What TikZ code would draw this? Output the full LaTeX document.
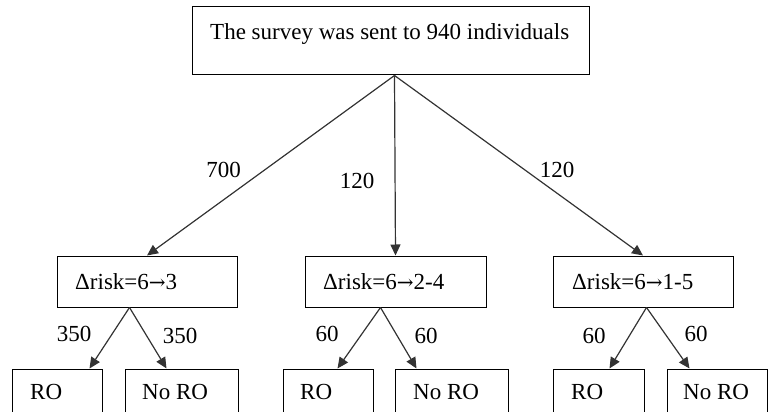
\documentclass[tikz,border=0pt]{standalone}
\usepackage{fontspec}
\setmainfont{Liberation Serif}
\newfontfamily\serf{Liberation Serif}
\newfontfamily\arrfont{DejaVu Serif}
\usetikzlibrary{arrows.meta,calc}
\newcommand{\rarr}{{\arrfont\fontsize{20}{24}\selectfont →}}
\begin{document}
\begin{tikzpicture}[x=1pt,y=-1pt,
  box/.style={draw,line width=1pt,inner sep=0pt},
  txt/.style={anchor=base west,inner sep=0pt,font=\serf\fontsize{23}{27}\selectfont},
  lbl/.style={anchor=center,inner sep=0pt,font=\serf\fontsize{23}{27}\selectfont},
  arr/.style={draw=black!80,line width=1.2pt,-{Triangle[length=11pt,width=10pt]}}]
\useasboundingbox (0,0) rectangle (769,412);
\clip (0,0) rectangle (769,412);
% boxes
\node[box,minimum width=397pt,minimum height=68pt] (top) at (390.5,41) {};
\node[box,minimum width=180pt,minimum height=51pt] (m1) at (147,281.5) {};
\node[box,minimum width=181pt,minimum height=51pt] (m2) at (395.5,281.5) {};
\node[box,minimum width=180pt,minimum height=51pt] (m3) at (643,281.5) {};
\node[box,minimum width=90pt,minimum height=61pt] (r1) at (57,399.5) {};
\node[box,minimum width=113pt,minimum height=61pt] (n1) at (181.5,399.5) {};
\node[box,minimum width=90pt,minimum height=61pt] (r2) at (328,399.5) {};
\node[box,minimum width=113pt,minimum height=61pt] (n2) at (451.5,399.5) {};
\node[box,minimum width=91pt,minimum height=61pt] (r3) at (598.5,399.5) {};
\node[box,minimum width=100pt,minimum height=61pt] (n3) at (717,399.5) {};
% texts
\node[txt] (ttop) at (210,40) {The survey was sent to 940 individuals};
\node[txt] (tm1) at (75,289) {Δrisk=6\rarr3};
\node[txt] (tm2) at (323,289) {Δrisk=6\rarr2-4};
\node[txt] (tm3) at (572,289) {Δrisk=6\rarr1-5};
\node[txt] (tr1) at (30,399) {RO};
\node[txt] (tn1) at (142,399) {No RO};
\node[txt] (tr2) at (300,399) {RO};
\node[txt] (tn2) at (413,399) {No RO};
\node[txt] (tr3) at (571,399) {RO};
\node[txt] (tn3) at (683,399) {No RO};
% connectors
\coordinate (apex) at ($(top.south west)+(203,0)$);
\draw[arr] (apex) -- (m1.north);
\draw[arr] (apex) -- (m2.north);
\draw[arr] (apex) -- (m3.north);
\draw[arr] ($(m1.south west)+(73,0)$) -- ($(r1.north west)+(78,0)$);
\draw[arr] ($(m1.south west)+(73,0)$) -- ($(n1.north west)+(42,0)$);
\draw[arr] ($(m2.south west)+(76,0)$) -- ($(r2.north west)+(55,0)$);
\draw[arr] ($(m2.south west)+(76,0)$) -- ($(n2.north west)+(22,0)$);
\draw[arr] ($(m3.south west)+(94,0)$) -- ($(r3.north west)+(57,0)$);
\draw[arr] ($(m3.south west)+(94,0)$) -- ($(n3.north west)+(23,0)$);
% labels
\node[lbl] (l1) at (223.5,170) {700};
\node[lbl] (l2) at (357,181) {120};
\node[lbl] (l3) at (557,170) {120};
\node[lbl] (l4) at (74,334) {350};
\node[lbl] (l5) at (180,336) {350};
\node[lbl] (l6) at (327,334) {60};
\node[lbl] (l7) at (426,336) {60};
\node[lbl] (l8) at (594,336) {60};
\node[lbl] (l9) at (696,334) {60};
\end{tikzpicture}
\end{document}
